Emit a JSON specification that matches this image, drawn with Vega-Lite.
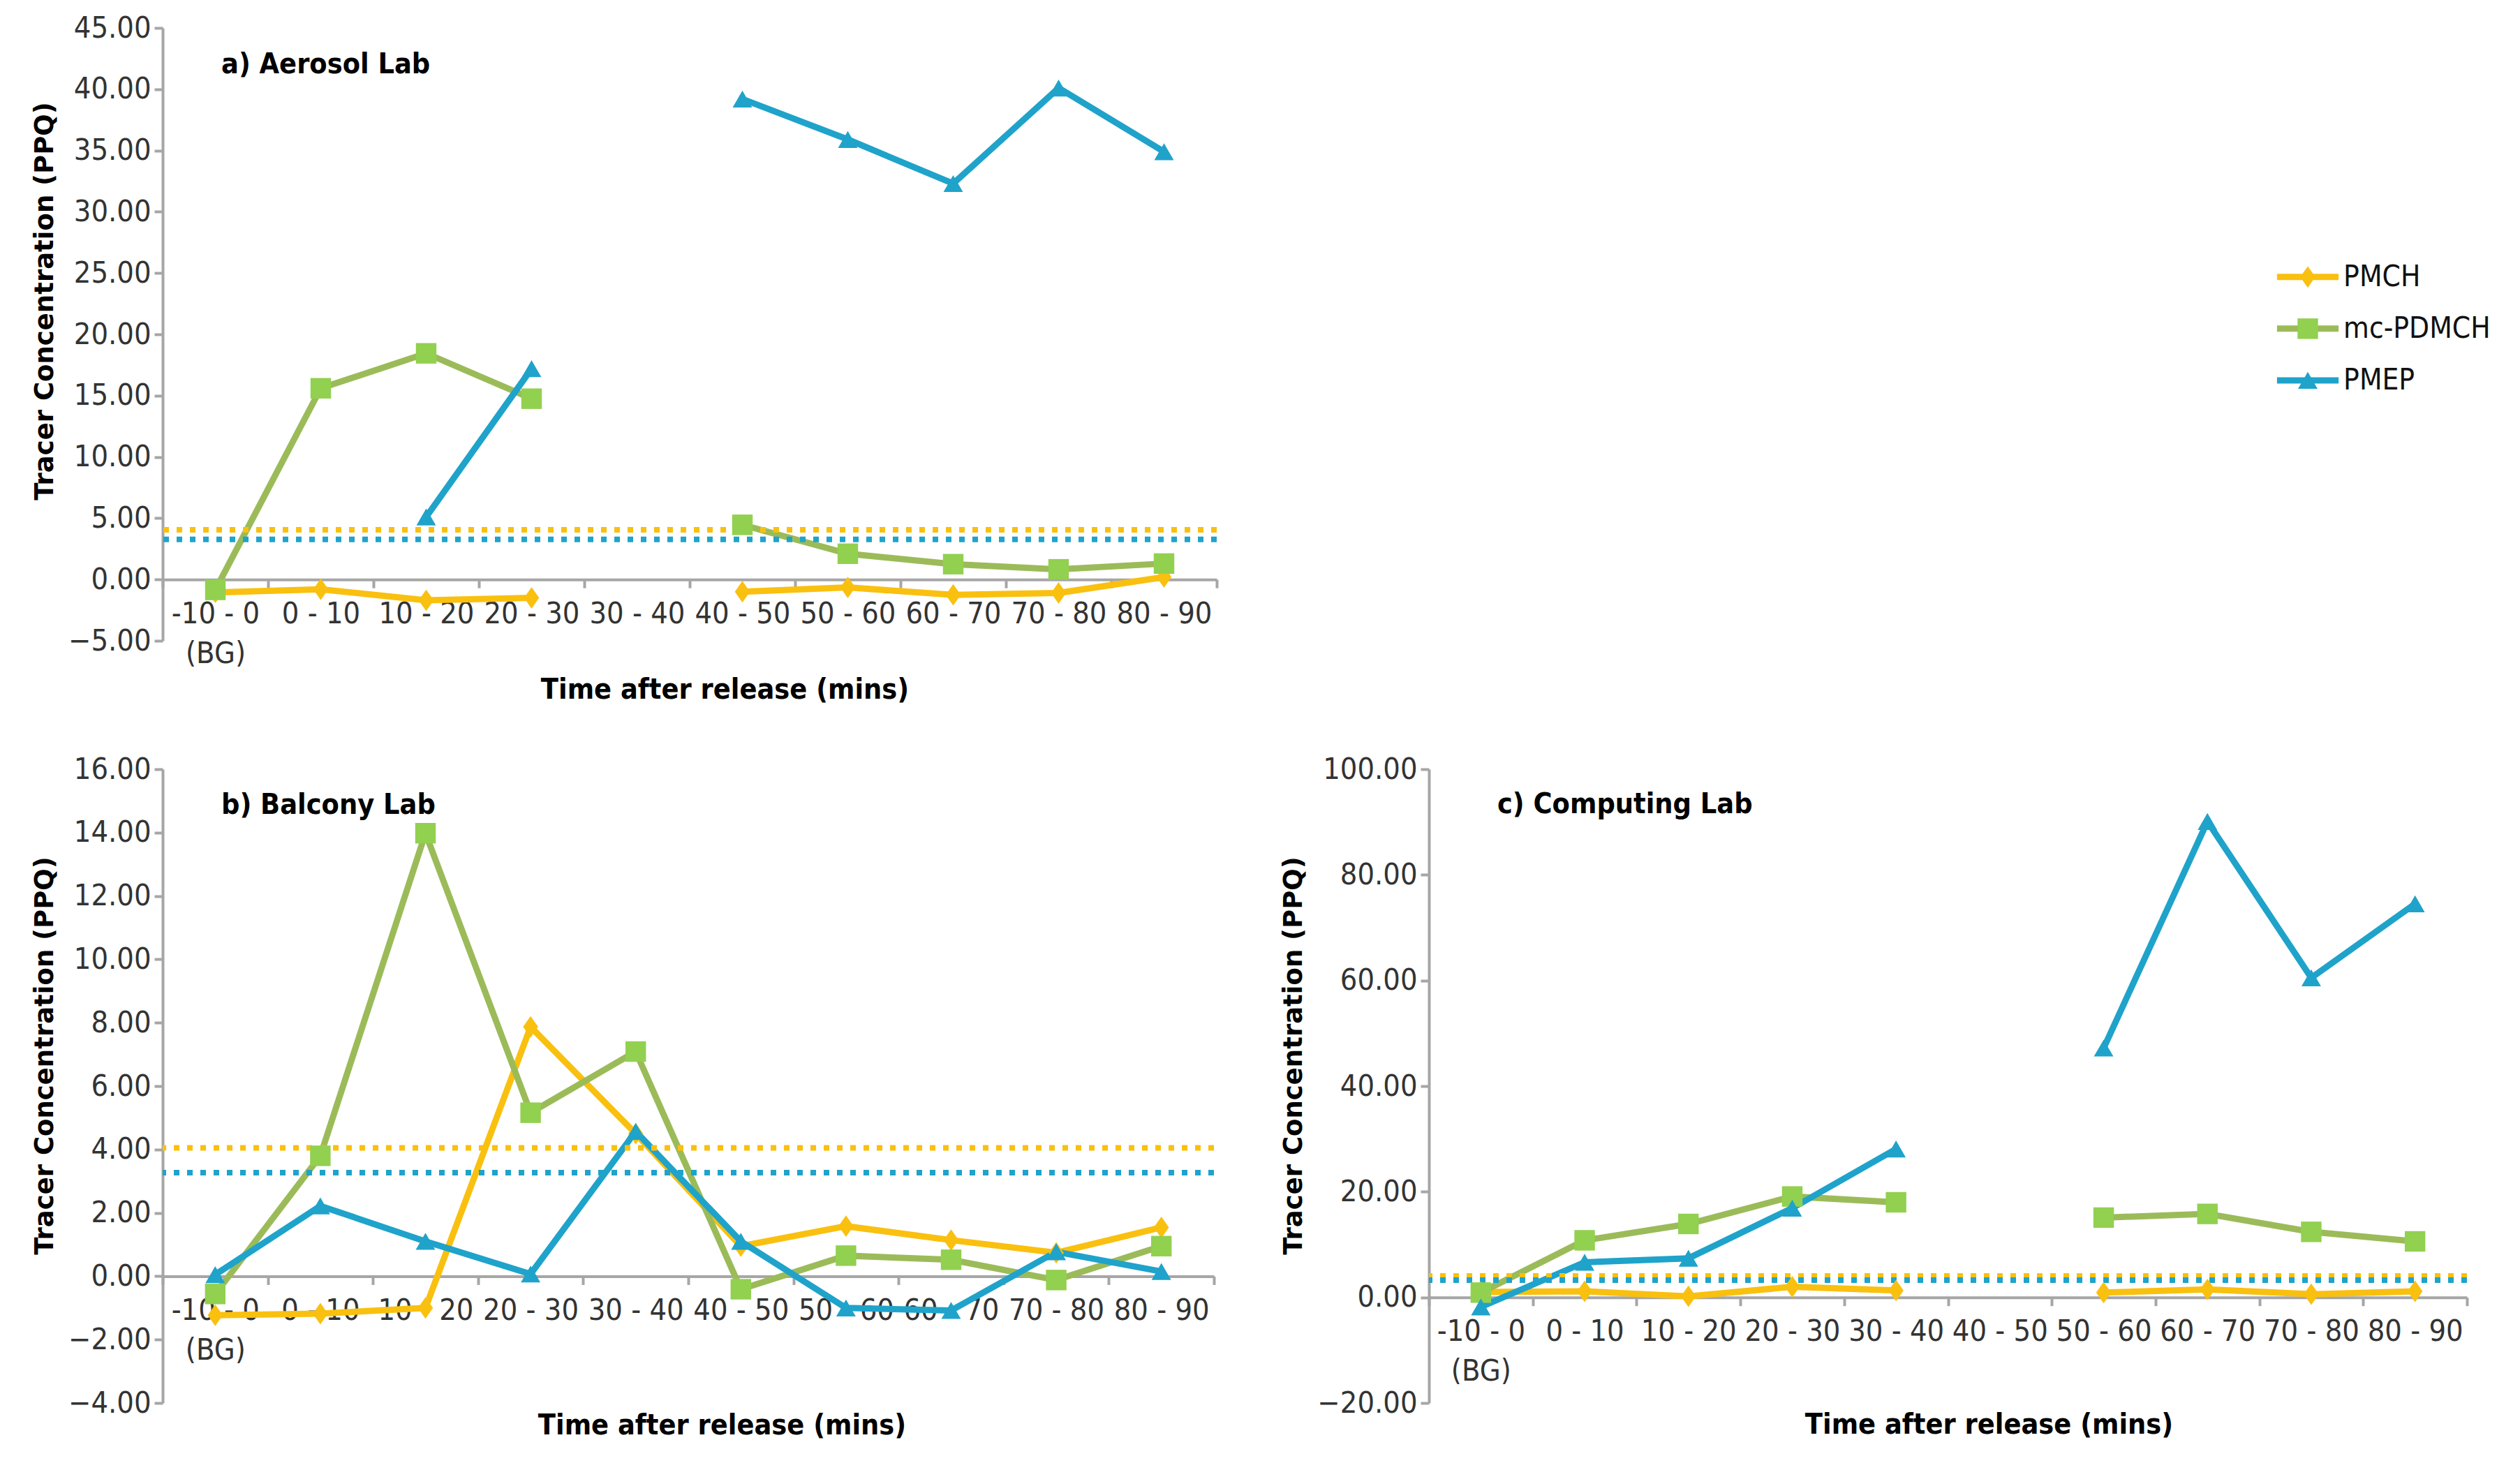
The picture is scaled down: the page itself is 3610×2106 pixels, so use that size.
{
  "$schema": "https://vega.github.io/schema/vega-lite/v6.json",
  "background": "white",
  "padding": {"left": 45, "top": 19, "right": 0, "bottom": 24},
  "datasets": {
    "tracer": [
      {"lab": "a", "interval": "-10 - 0 (BG)", "series": "PMCH", "value": -1.05},
      {"lab": "a", "interval": "0 - 10", "series": "PMCH", "value": -0.8},
      {"lab": "a", "interval": "10 - 20", "series": "PMCH", "value": -1.7},
      {"lab": "a", "interval": "20 - 30", "series": "PMCH", "value": -1.5},
      {"lab": "a", "interval": "30 - 40", "series": "PMCH", "value": null},
      {"lab": "a", "interval": "40 - 50", "series": "PMCH", "value": -1.0},
      {"lab": "a", "interval": "50 - 60", "series": "PMCH", "value": -0.65},
      {"lab": "a", "interval": "60 - 70", "series": "PMCH", "value": -1.25},
      {"lab": "a", "interval": "70 - 80", "series": "PMCH", "value": -1.1},
      {"lab": "a", "interval": "80 - 90", "series": "PMCH", "value": 0.2},
      {"lab": "a", "interval": "-10 - 0 (BG)", "series": "mc-PDMCH", "value": -0.85},
      {"lab": "a", "interval": "0 - 10", "series": "mc-PDMCH", "value": 15.6},
      {"lab": "a", "interval": "10 - 20", "series": "mc-PDMCH", "value": 18.45},
      {"lab": "a", "interval": "20 - 30", "series": "mc-PDMCH", "value": 14.75},
      {"lab": "a", "interval": "30 - 40", "series": "mc-PDMCH", "value": null},
      {"lab": "a", "interval": "40 - 50", "series": "mc-PDMCH", "value": 4.46},
      {"lab": "a", "interval": "50 - 60", "series": "mc-PDMCH", "value": 2.1},
      {"lab": "a", "interval": "60 - 70", "series": "mc-PDMCH", "value": 1.25},
      {"lab": "a", "interval": "70 - 80", "series": "mc-PDMCH", "value": 0.83},
      {"lab": "a", "interval": "80 - 90", "series": "mc-PDMCH", "value": 1.3},
      {"lab": "a", "interval": "10 - 20", "series": "PMEP", "value": 5.1},
      {"lab": "a", "interval": "20 - 30", "series": "PMEP", "value": 17.2},
      {"lab": "a", "interval": "30 - 40", "series": "PMEP", "value": null},
      {"lab": "a", "interval": "40 - 50", "series": "PMEP", "value": 39.2},
      {"lab": "a", "interval": "50 - 60", "series": "PMEP", "value": 35.9},
      {"lab": "a", "interval": "60 - 70", "series": "PMEP", "value": 32.3},
      {"lab": "a", "interval": "70 - 80", "series": "PMEP", "value": 40.1},
      {"lab": "a", "interval": "80 - 90", "series": "PMEP", "value": 34.9},

      {"lab": "b", "interval": "-10 - 0 (BG)", "series": "PMCH", "value": -1.23},
      {"lab": "b", "interval": "0 - 10", "series": "PMCH", "value": -1.18},
      {"lab": "b", "interval": "10 - 20", "series": "PMCH", "value": -1.0},
      {"lab": "b", "interval": "20 - 30", "series": "PMCH", "value": 7.87},
      {"lab": "b", "interval": "30 - 40", "series": "PMCH", "value": 4.5},
      {"lab": "b", "interval": "40 - 50", "series": "PMCH", "value": 0.95},
      {"lab": "b", "interval": "50 - 60", "series": "PMCH", "value": 1.58},
      {"lab": "b", "interval": "60 - 70", "series": "PMCH", "value": 1.14},
      {"lab": "b", "interval": "70 - 80", "series": "PMCH", "value": 0.74},
      {"lab": "b", "interval": "80 - 90", "series": "PMCH", "value": 1.54},
      {"lab": "b", "interval": "-10 - 0 (BG)", "series": "mc-PDMCH", "value": -0.56},
      {"lab": "b", "interval": "0 - 10", "series": "mc-PDMCH", "value": 3.8},
      {"lab": "b", "interval": "10 - 20", "series": "mc-PDMCH", "value": 13.98},
      {"lab": "b", "interval": "20 - 30", "series": "mc-PDMCH", "value": 5.16},
      {"lab": "b", "interval": "30 - 40", "series": "mc-PDMCH", "value": 7.09},
      {"lab": "b", "interval": "40 - 50", "series": "mc-PDMCH", "value": -0.41},
      {"lab": "b", "interval": "50 - 60", "series": "mc-PDMCH", "value": 0.65},
      {"lab": "b", "interval": "60 - 70", "series": "mc-PDMCH", "value": 0.52},
      {"lab": "b", "interval": "70 - 80", "series": "mc-PDMCH", "value": -0.12},
      {"lab": "b", "interval": "80 - 90", "series": "mc-PDMCH", "value": 0.95},
      {"lab": "b", "interval": "-10 - 0 (BG)", "series": "PMEP", "value": 0.05},
      {"lab": "b", "interval": "0 - 10", "series": "PMEP", "value": 2.22},
      {"lab": "b", "interval": "10 - 20", "series": "PMEP", "value": 1.1},
      {"lab": "b", "interval": "20 - 30", "series": "PMEP", "value": 0.07},
      {"lab": "b", "interval": "30 - 40", "series": "PMEP", "value": 4.57},
      {"lab": "b", "interval": "40 - 50", "series": "PMEP", "value": 1.1},
      {"lab": "b", "interval": "50 - 60", "series": "PMEP", "value": -1.0},
      {"lab": "b", "interval": "60 - 70", "series": "PMEP", "value": -1.08},
      {"lab": "b", "interval": "70 - 80", "series": "PMEP", "value": 0.77},
      {"lab": "b", "interval": "80 - 90", "series": "PMEP", "value": 0.15},

      {"lab": "c", "interval": "-10 - 0 (BG)", "series": "PMCH", "value": 1.0},
      {"lab": "c", "interval": "0 - 10", "series": "PMCH", "value": 1.15},
      {"lab": "c", "interval": "10 - 20", "series": "PMCH", "value": 0.2},
      {"lab": "c", "interval": "20 - 30", "series": "PMCH", "value": 2.0},
      {"lab": "c", "interval": "30 - 40", "series": "PMCH", "value": 1.3},
      {"lab": "c", "interval": "40 - 50", "series": "PMCH", "value": null},
      {"lab": "c", "interval": "50 - 60", "series": "PMCH", "value": 0.9},
      {"lab": "c", "interval": "60 - 70", "series": "PMCH", "value": 1.5},
      {"lab": "c", "interval": "70 - 80", "series": "PMCH", "value": 0.6},
      {"lab": "c", "interval": "80 - 90", "series": "PMCH", "value": 1.15},
      {"lab": "c", "interval": "-10 - 0 (BG)", "series": "mc-PDMCH", "value": 0.9},
      {"lab": "c", "interval": "0 - 10", "series": "mc-PDMCH", "value": 10.8},
      {"lab": "c", "interval": "10 - 20", "series": "mc-PDMCH", "value": 13.9},
      {"lab": "c", "interval": "20 - 30", "series": "mc-PDMCH", "value": 19.1},
      {"lab": "c", "interval": "30 - 40", "series": "mc-PDMCH", "value": 18.0},
      {"lab": "c", "interval": "40 - 50", "series": "mc-PDMCH", "value": null},
      {"lab": "c", "interval": "50 - 60", "series": "mc-PDMCH", "value": 15.1},
      {"lab": "c", "interval": "60 - 70", "series": "mc-PDMCH", "value": 15.8},
      {"lab": "c", "interval": "70 - 80", "series": "mc-PDMCH", "value": 12.4},
      {"lab": "c", "interval": "80 - 90", "series": "mc-PDMCH", "value": 10.6},
      {"lab": "c", "interval": "-10 - 0 (BG)", "series": "PMEP", "value": -1.8},
      {"lab": "c", "interval": "0 - 10", "series": "PMEP", "value": 6.65},
      {"lab": "c", "interval": "10 - 20", "series": "PMEP", "value": 7.4},
      {"lab": "c", "interval": "20 - 30", "series": "PMEP", "value": 16.9},
      {"lab": "c", "interval": "30 - 40", "series": "PMEP", "value": 28.1},
      {"lab": "c", "interval": "40 - 50", "series": "PMEP", "value": null},
      {"lab": "c", "interval": "50 - 60", "series": "PMEP", "value": 47.2},
      {"lab": "c", "interval": "60 - 70", "series": "PMEP", "value": 90.1},
      {"lab": "c", "interval": "70 - 80", "series": "PMEP", "value": 60.5},
      {"lab": "c", "interval": "80 - 90", "series": "PMEP", "value": 74.5}
    ],
    "limits": [
      {"series": "PMCH", "value": 4.05},
      {"series": "PMEP", "value": 3.27}
    ],
    "panels": [
      {"lab": "a", "name": "a) Aerosol Lab"},
      {"lab": "b", "name": "b) Balcony Lab"},
      {"lab": "c", "name": "c) Computing Lab"}
    ],
    "legend": [
      {"series": "PMCH", "rank": 1},
      {"series": "mc-PDMCH", "rank": 2},
      {"series": "PMEP", "rank": 3}
    ]
  },
  "vconcat": [
    {
      "hconcat": [
        {
          "width": 1510,
          "height": 878,
          "layer": [
            {
              "data": {"name": "tracer"},
              "transform": [{"filter": "datum.lab == 'a'"}],
              "mark": {"type": "line", "strokeWidth": 9, "invalid": "break-paths-show-domains"},
              "encoding": {
                "x": {
                  "field": "interval", "type": "nominal", "bandPosition": 0.5,
                  "scale": {"type": "band", "paddingInner": 0, "paddingOuter": 0,
                    "domain": ["-10 - 0 (BG)", "0 - 10", "10 - 20", "20 - 30", "30 - 40", "40 - 50", "50 - 60", "60 - 70", "70 - 80", "80 - 90"]},
                  "axis": {"title": "Time after release (mins)", "offset": -87.8, "titlePadding": 10, "titleX": 805,
                    "labelExpr": "datum.value == '-10 - 0 (BG)' ? ['-10 - 0', '(BG)'] : datum.label"}
                },
                "y": {
                  "field": "value", "type": "quantitative",
                  "scale": {"domain": [-5, 45], "nice": false, "zero": false},
                  "axis": {"values": [-5, 0, 5, 10, 15, 20, 25, 30, 35, 40, 45], "format": ".2f", "title": "Tracer Concentration (PPQ)", "titleY": 391}
                },
                "color": {"field": "series", "type": "nominal", "legend": null,
                  "scale": {"domain": ["PMCH", "mc-PDMCH", "PMEP"], "range": ["#F9C00F", "#9BBB59", "#1FA3CA"]}}
              }
            },
            {
              "data": {"name": "limits"},
              "mark": {"type": "rule", "strokeWidth": 8, "strokeDash": [8, 11]},
              "encoding": {
                "y": {"field": "value", "type": "quantitative"},
                "color": {"field": "series", "type": "nominal", "legend": null}
              }
            },
            {
              "data": {"name": "tracer"},
              "transform": [{"filter": "datum.lab == 'a'"}],
              "mark": {"type": "point", "filled": true, "opacity": 1, "strokeWidth": 0},
              "encoding": {
                "x": {"field": "interval", "type": "nominal", "bandPosition": 0.5},
                "y": {"field": "value", "type": "quantitative"},
                "fill": {"field": "series", "type": "nominal", "legend": null,
                  "scale": {"domain": ["PMCH", "mc-PDMCH", "PMEP"], "range": ["#F9C00F", "#92D050", "#1FA3CA"]}},
                "shape": {"field": "series", "type": "nominal", "legend": null,
                  "scale": {"domain": ["PMCH", "mc-PDMCH", "PMEP"], "range": ["M0,-1L0.7,0L0,1L-0.7,0Z", "square", "triangle-up"]}},
                "size": {"field": "series", "type": "nominal", "legend": null,
                  "scale": {"domain": ["PMCH", "mc-PDMCH", "PMEP"], "range": [950, 780, 950]}}
              }
            },
            {
              "data": {"name": "panels"},
              "transform": [{"filter": "datum.lab == 'a'"}],
              "mark": {"type": "text", "align": "left", "baseline": "middle", "dx": 84, "font": "DejaVu Sans Condensed", "fontSize": 41, "fontWeight": "bold", "color": "black"},
              "encoding": {
                "x": {"datum": "-10 - 0 (BG)", "bandPosition": 0},
                "y": {"datum": 42.0},
                "text": {"field": "name"}
              }
            }
          ]
        },
        {
          "width": 350,
          "height": 878,
          "data": {"name": "legend"},
          "encoding": {
            "y": {"field": "rank", "type": "quantitative", "axis": null,
              "scale": {"domain": [-3.82, 8.04], "reverse": true, "nice": false, "zero": false}}
          },
          "layer": [
            {
              "mark": {"type": "rule", "strokeWidth": 9},
              "encoding": {
                "x": {"datum": 0.14, "type": "quantitative", "axis": null, "scale": {"domain": [0, 10], "nice": false}},
                "x2": {"datum": 2.66},
                "color": {"field": "series", "type": "nominal", "legend": null,
                  "scale": {"domain": ["PMCH", "mc-PDMCH", "PMEP"], "range": ["#F9C00F", "#9BBB59", "#1FA3CA"]}}
              }
            },
            {
              "mark": {"type": "point", "filled": true, "opacity": 1, "strokeWidth": 0},
              "encoding": {
                "x": {"datum": 1.4, "type": "quantitative", "axis": null},
                "fill": {"field": "series", "type": "nominal", "legend": null,
                  "scale": {"domain": ["PMCH", "mc-PDMCH", "PMEP"], "range": ["#F9C00F", "#92D050", "#1FA3CA"]}},
                "shape": {"field": "series", "type": "nominal", "legend": null,
                  "scale": {"domain": ["PMCH", "mc-PDMCH", "PMEP"], "range": ["M0,-1L0.7,0L0,1L-0.7,0Z", "square", "triangle-up"]}},
                "size": {"field": "series", "type": "nominal", "legend": null,
                  "scale": {"domain": ["PMCH", "mc-PDMCH", "PMEP"], "range": [950, 780, 950]}}
              }
            },
            {
              "mark": {"type": "text", "align": "left", "baseline": "middle", "font": "DejaVu Sans Condensed", "fontSize": 42, "color": "#111"},
              "encoding": {
                "x": {"datum": 2.86, "type": "quantitative", "axis": null},
                "text": {"field": "series"}
              }
            }
          ]
        }
      ],
      "spacing": 1510
    },
    {
      "hconcat": [
        {
          "width": 1506,
          "height": 908,
          "layer": [
            {
              "data": {"name": "tracer"},
              "transform": [{"filter": "datum.lab == 'b'"}],
              "mark": {"type": "line", "strokeWidth": 9, "invalid": "break-paths-show-domains"},
              "encoding": {
                "x": {
                  "field": "interval", "type": "nominal", "bandPosition": 0.5,
                  "scale": {"type": "band", "paddingInner": 0, "paddingOuter": 0,
                    "domain": ["-10 - 0 (BG)", "0 - 10", "10 - 20", "20 - 30", "30 - 40", "40 - 50", "50 - 60", "60 - 70", "70 - 80", "80 - 90"]},
                  "axis": {"title": "Time after release (mins)", "offset": -181.6, "titlePadding": 66, "titleX": 801,
                    "labelExpr": "datum.value == '-10 - 0 (BG)' ? ['-10 - 0', '(BG)'] : datum.label"}
                },
                "y": {
                  "field": "value", "type": "quantitative",
                  "scale": {"domain": [-4, 16], "nice": false, "zero": false},
                  "axis": {"values": [-4, -2, 0, 2, 4, 6, 8, 10, 12, 14, 16], "format": ".2f", "title": "Tracer Concentration (PPQ)", "titleY": 410}
                },
                "color": {"field": "series", "type": "nominal", "legend": null,
                  "scale": {"domain": ["PMCH", "mc-PDMCH", "PMEP"], "range": ["#F9C00F", "#9BBB59", "#1FA3CA"]}}
              }
            },
            {
              "data": {"name": "limits"},
              "mark": {"type": "rule", "strokeWidth": 8, "strokeDash": [8, 11]},
              "encoding": {
                "y": {"field": "value", "type": "quantitative"},
                "color": {"field": "series", "type": "nominal", "legend": null}
              }
            },
            {
              "data": {"name": "tracer"},
              "transform": [{"filter": "datum.lab == 'b'"}],
              "mark": {"type": "point", "filled": true, "opacity": 1, "strokeWidth": 0},
              "encoding": {
                "x": {"field": "interval", "type": "nominal", "bandPosition": 0.5},
                "y": {"field": "value", "type": "quantitative"},
                "fill": {"field": "series", "type": "nominal", "legend": null,
                  "scale": {"domain": ["PMCH", "mc-PDMCH", "PMEP"], "range": ["#F9C00F", "#92D050", "#1FA3CA"]}},
                "shape": {"field": "series", "type": "nominal", "legend": null,
                  "scale": {"domain": ["PMCH", "mc-PDMCH", "PMEP"], "range": ["M0,-1L0.7,0L0,1L-0.7,0Z", "square", "triangle-up"]}},
                "size": {"field": "series", "type": "nominal", "legend": null,
                  "scale": {"domain": ["PMCH", "mc-PDMCH", "PMEP"], "range": [950, 780, 950]}}
              }
            },
            {
              "data": {"name": "panels"},
              "transform": [{"filter": "datum.lab == 'b'"}],
              "mark": {"type": "text", "align": "left", "baseline": "middle", "dx": 84, "font": "DejaVu Sans Condensed", "fontSize": 41, "fontWeight": "bold", "color": "black"},
              "encoding": {
                "x": {"datum": "-10 - 0 (BG)", "bandPosition": 0},
                "y": {"datum": 14.85},
                "text": {"field": "name"}
              }
            }
          ]
        },
        {
          "width": 1487,
          "height": 908,
          "layer": [
            {
              "data": {"name": "tracer"},
              "transform": [{"filter": "datum.lab == 'c'"}],
              "mark": {"type": "line", "strokeWidth": 9, "invalid": "break-paths-show-domains"},
              "encoding": {
                "x": {
                  "field": "interval", "type": "nominal", "bandPosition": 0.5,
                  "scale": {"type": "band", "paddingInner": 0, "paddingOuter": 0,
                    "domain": ["-10 - 0 (BG)", "0 - 10", "10 - 20", "20 - 30", "30 - 40", "40 - 50", "50 - 60", "60 - 70", "70 - 80", "80 - 90"]},
                  "axis": {"title": "Time after release (mins)", "offset": -151.3, "titlePadding": 35, "titleX": 802,
                    "labelExpr": "datum.value == '-10 - 0 (BG)' ? ['-10 - 0', '(BG)'] : datum.label"}
                },
                "y": {
                  "field": "value", "type": "quantitative",
                  "scale": {"domain": [-20, 100], "nice": false, "zero": false},
                  "axis": {"values": [-20, 0, 20, 40, 60, 80, 100], "format": ".2f", "title": "Tracer Concentration (PPQ)", "titleY": 410}
                },
                "color": {"field": "series", "type": "nominal", "legend": null,
                  "scale": {"domain": ["PMCH", "mc-PDMCH", "PMEP"], "range": ["#F9C00F", "#9BBB59", "#1FA3CA"]}}
              }
            },
            {
              "data": {"name": "limits"},
              "mark": {"type": "rule", "strokeWidth": 8, "strokeDash": [8, 11]},
              "encoding": {
                "y": {"field": "value", "type": "quantitative"},
                "color": {"field": "series", "type": "nominal", "legend": null}
              }
            },
            {
              "data": {"name": "tracer"},
              "transform": [{"filter": "datum.lab == 'c'"}],
              "mark": {"type": "point", "filled": true, "opacity": 1, "strokeWidth": 0},
              "encoding": {
                "x": {"field": "interval", "type": "nominal", "bandPosition": 0.5},
                "y": {"field": "value", "type": "quantitative"},
                "fill": {"field": "series", "type": "nominal", "legend": null,
                  "scale": {"domain": ["PMCH", "mc-PDMCH", "PMEP"], "range": ["#F9C00F", "#92D050", "#1FA3CA"]}},
                "shape": {"field": "series", "type": "nominal", "legend": null,
                  "scale": {"domain": ["PMCH", "mc-PDMCH", "PMEP"], "range": ["M0,-1L0.7,0L0,1L-0.7,0Z", "square", "triangle-up"]}},
                "size": {"field": "series", "type": "nominal", "legend": null,
                  "scale": {"domain": ["PMCH", "mc-PDMCH", "PMEP"], "range": [950, 780, 950]}}
              }
            },
            {
              "data": {"name": "panels"},
              "transform": [{"filter": "datum.lab == 'c'"}],
              "mark": {"type": "text", "align": "left", "baseline": "middle", "dx": 98, "font": "DejaVu Sans Condensed", "fontSize": 41, "fontWeight": "bold", "color": "black"},
              "encoding": {
                "x": {"datum": "-10 - 0 (BG)", "bandPosition": 0},
                "y": {"datum": 93.3},
                "text": {"field": "name"}
              }
            }
          ]
        }
      ],
      "spacing": 91
    }
  ],
  "spacing": 72,
  "config": {
    "view": {"stroke": null},
    "axis": {
      "grid": false,
      "domainColor": "#A6A6A6",
      "domainWidth": 4,
      "tickColor": "#A6A6A6",
      "tickWidth": 4,
      "tickSize": 12,
      "labelFont": "DejaVu Sans Condensed",
      "labelFontSize": 43,
      "labelColor": "#333333",
      "titleColor": "black"
    },
    "axisX": {
      "labelAngle": 0,
      "labelPadding": 16,
      "labelLineHeight": 57,
      "labelOverlap": false,
      "labelBound": false,
      "titleFont": "DejaVu Sans Condensed",
      "titleFontSize": 41,
      "titleFontWeight": "bold"
    },
    "axisBand": {"tickBand": "extent"},
    "axisY": {
      "labelPadding": 5,
      "titlePadding": 14,
      "titleFont": "DejaVu Sans",
      "titleFontSize": 37,
      "titleFontWeight": "bold"
    }
  }
}
